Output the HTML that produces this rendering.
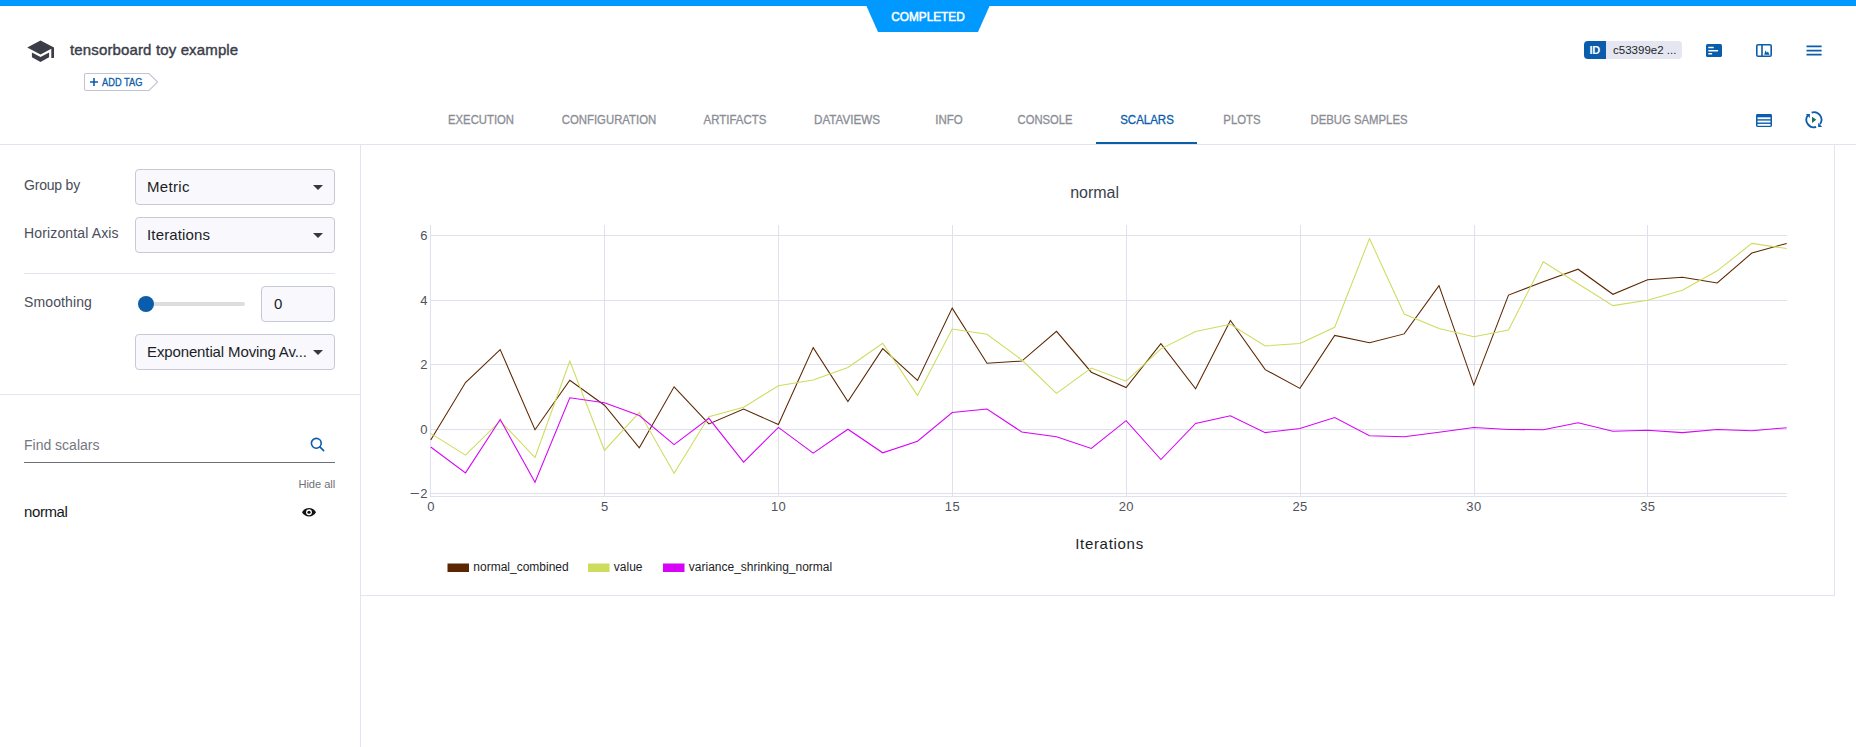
<!DOCTYPE html><html><head><meta charset="utf-8"><title>tensorboard toy example</title><style>
*{box-sizing:border-box;margin:0;padding:0}
html,body{width:1856px;height:747px;overflow:hidden;background:#fff}
body{font-family:"Liberation Sans",sans-serif;position:relative;color:#3a3d4a}
.a{position:absolute;white-space:nowrap;line-height:1}
.ln{position:absolute;background:#e2e4f0}
.sel{position:absolute;border:1px solid #c6c9d8;border-radius:4px;background:#f8f8fd}
.sel span{position:absolute;left:11px;top:7.6px;font-size:15px;color:#1c1e26;line-height:17px;white-space:nowrap}
.sel i{position:absolute;right:11.5px;top:15px;width:0;height:0;border-left:5px solid transparent;border-right:5px solid transparent;border-top:5.2px solid #38383c}
.tab{position:absolute;top:113px;font-size:12px;line-height:14px;color:#8b8d94;white-space:nowrap;transform:translateX(-50%);-webkit-text-stroke:0.3px}
.lbl{position:absolute;left:24px;font-size:14px;line-height:16px;color:#4a4d5a;white-space:nowrap}
</style></head><body>
<div class="a" style="left:0;top:0;width:1856px;height:6px;background:#0099ff"></div>
<svg class="a" style="left:860px;top:0" width="140" height="34"><polygon points="6,5 130,5 118,32 18,32" fill="#0099ff"/></svg>
<div class="a" id="completed" style="left:928px;top:11px;transform:translateX(-50%);font-size:12.5px;-webkit-text-stroke:0.55px;color:#fff;transform:translateX(-50%) scaleX(0.9448);transform-origin:50% 50%">COMPLETED</div>
<svg class="a" style="left:25.5px;top:38.5px" width="30" height="26" viewBox="0 0 30 26"><path d="M14.5 1.4 L1.2 8.5 L14.5 15.6 L25.3 9.8 V18.9 H28 V8.5 Z M5.9 13.4 V18.3 L14.5 23 L23.1 18.3 V13.4 L14.5 18.1 Z" fill="#3c3e47"/></svg>
<div class="a" id="title" style="left:70px;top:42px;font-size:15px;-webkit-text-stroke:0.4px;color:#3a3d4a;line-height:16px;letter-spacing:0.140px">tensorboard toy example</div>
<svg class="a" style="left:83px;top:72px" width="78" height="20" viewBox="0 0 78 20"><path d="M3 1.5 H66 L74.6 10 L66 18.5 H3 Q1.5 18.5 1.5 17 V3 Q1.5 1.5 3 1.5 Z" fill="#fff" stroke="#c2c5d5" stroke-width="1.1"/><path d="M7 10 H15 M11 6 V14" stroke="#0a5dab" stroke-width="1.6" fill="none"/></svg>
<div class="a" id="addtag" style="left:102px;top:77px;font-size:10.8px;-webkit-text-stroke:0.3px;color:#0a5dab;transform: scaleX(0.8596);transform-origin:0 0">ADD TAG</div>
<div class="a" style="left:1584px;top:41px;width:98px;height:18px;border-radius:4px;background:#e4e6f1;overflow:hidden"><div style="position:absolute;left:0;top:0;width:22px;height:18px;background:#0a5dab"></div></div>
<div class="a" id="idlbl" style="left:1589.5px;top:44.5px;font-size:11px;font-weight:bold;color:#fff;letter-spacing:-0.2px">ID</div>
<div class="a" id="idtxt" style="left:1613px;top:45px;font-size:11.5px;color:#1c1e26;letter-spacing:0.017px">c53399e2 ...</div>
<svg class="a" style="left:1706px;top:44px" width="16" height="13" viewBox="0 0 16 13"><rect x="0" y="0" width="16" height="13" rx="1.6" fill="#0a5dab"/><rect x="2.2" y="2.8" width="5.6" height="1.5" rx=".6" fill="#fff"/><rect x="2.2" y="5.9" width="10" height="1.5" rx=".6" fill="#fff"/><rect x="2.2" y="9" width="4" height="1.5" rx=".6" fill="#fff"/></svg>
<svg class="a" style="left:1756px;top:44px" width="16" height="13" viewBox="0 0 16 13"><rect x=".8" y=".8" width="14.4" height="11.4" rx="1.3" fill="#fff" stroke="#0a5dab" stroke-width="1.6"/><rect x="5.2" y="1" width="1.6" height="11" fill="#0a5dab"/><path d="M8.2 10.8 L9.5 6.2 L10.8 8.8 L11.9 7.4 L13.6 10.8 Z" fill="#0a5dab"/></svg>
<svg class="a" style="left:1806px;top:45px" width="16" height="11" viewBox="0 0 16 11"><path d="M.5 1.4 H15.6 M.5 5.6 H15.6 M.5 9.7 H15.6" stroke="#0a5dab" stroke-width="1.7" fill="none"/></svg>
<svg class="a" style="left:1756px;top:114px" width="16" height="13" viewBox="0 0 16 13"><rect x="0" y="0" width="16" height="13" rx="1.4" fill="#0a5dab"/><rect x="1.5" y="3.3" width="13" height="1.9" fill="#fff"/><rect x="1.5" y="6.6" width="13" height="1.9" fill="#fff"/><rect x="1.5" y="9.9" width="13" height="1.9" fill="#fff"/></svg>
<svg class="a" style="left:1804px;top:110px" width="20" height="20" viewBox="0 0 20 20"><g fill="none" stroke="#0a5dab" stroke-width="1.8"><path d="M7.65 2.55 A7.5 7.5 0 0 1 16.0 14.1"/><path d="M12.15 16.85 A7.5 7.5 0 0 1 3.8 5.3"/></g><path d="M14.1 12.8 V16.9 H18.2 Z" fill="#0a5dab"/><path d="M1.8 3.95 H5.9 V8.1 Z" fill="#0a5dab"/><path d="M8 6.8 L12.3 9.85 L8 12.9 Z" fill="#17735a"/></svg>
<div class="tab" id="tab0" style="left:481.3px;transform:translateX(-50%) scaleX(0.9426);transform-origin:50% 50%">EXECUTION</div>
<div class="tab" id="tab1" style="left:608.7px;transform:translateX(-50%) scaleX(0.9471);transform-origin:50% 50%">CONFIGURATION</div>
<div class="tab" id="tab2" style="left:735.1px;transform:translateX(-50%) scaleX(0.9545);transform-origin:50% 50%">ARTIFACTS</div>
<div class="tab" id="tab3" style="left:846.9px;transform:translateX(-50%) scaleX(0.9704);transform-origin:50% 50%">DATAVIEWS</div>
<div class="tab" id="tab4" style="left:948.7px;transform:translateX(-50%) scaleX(0.9591);transform-origin:50% 50%">INFO</div>
<div class="tab" id="tab5" style="left:1044.7px;transform:translateX(-50%) scaleX(0.9355);transform-origin:50% 50%">CONSOLE</div>
<div class="tab" id="tab6" style="left:1146.6px;color:#0a5dab;transform:translateX(-50%) scaleX(0.9566);transform-origin:50% 50%">SCALARS</div>
<div class="tab" id="tab7" style="left:1242.0px;transform:translateX(-50%) scaleX(0.9502);transform-origin:50% 50%">PLOTS</div>
<div class="tab" id="tab8" style="left:1359.1px;transform:translateX(-50%) scaleX(0.9445);transform-origin:50% 50%">DEBUG SAMPLES</div>
<div class="a" style="left:1096px;top:142px;width:101px;height:2px;background:#0a5dab"></div>
<div class="ln" style="left:0;top:144px;width:1856px;height:1px"></div>
<div class="ln" style="left:360px;top:144px;width:1px;height:603px"></div>
<div class="ln" style="left:0;top:394px;width:360px;height:1px"></div>
<div class="ln" style="left:24px;top:273px;width:311px;height:1px"></div>
<div class="ln" style="left:1834px;top:144px;width:1px;height:452px"></div>
<div class="ln" style="left:361px;top:595px;width:1474px;height:1px"></div>
<div class="lbl" id="l_group" style="top:177px;letter-spacing:-0.199px">Group by</div>
<div class="lbl" id="l_haxis" style="top:225px;letter-spacing:0.143px">Horizontal Axis</div>
<div class="lbl" id="l_smooth" style="top:294px;letter-spacing:0.120px">Smoothing</div>
<div class="sel" style="left:135px;top:169px;width:200px;height:36px"><span id="s_metric" style="letter-spacing:0.311px">Metric</span><i></i></div>
<div class="sel" style="left:135px;top:217px;width:200px;height:36px"><span id="s_iter" style="letter-spacing:0.155px">Iterations</span><i></i></div>
<div class="sel" style="left:135px;top:334px;width:200px;height:36px"><span id="s_exp" style="letter-spacing:-0.126px">Exponential Moving Av...</span><i></i></div>
<div class="a" style="left:146px;top:302px;width:99px;height:4px;border-radius:2px;background:#dcdde0"></div>
<div class="a" style="left:138px;top:296px;width:16px;height:16px;border-radius:8px;background:#0a5dab"></div>
<div class="sel" style="left:261px;top:286px;width:74px;height:35.5px"><span style="left:12px;top:7.8px">0</span></div>
<div class="a" id="find" style="left:24px;top:437px;font-size:14px;line-height:16px;color:#75777f">Find scalars</div>
<div class="a" style="left:24px;top:461.5px;width:311px;height:1px;background:#6f7178"></div>
<svg class="a" style="left:309px;top:436.4px" width="17" height="17" viewBox="0 0 17 17"><circle cx="7.3" cy="7.3" r="4.9" fill="none" stroke="#0a5dab" stroke-width="1.6"/><path d="M10.9 10.9 L14.6 14.6" stroke="#0a5dab" stroke-width="1.6" stroke-linecap="round"/></svg>
<div class="a" id="hideall" style="right:1520.8px;top:477.5px;font-size:11.1px;line-height:12px;color:#6f7178;letter-spacing:-0.029px">Hide all</div>
<div class="a" id="normal" style="left:24px;top:503.8px;font-size:15px;line-height:16px;color:#15161a;letter-spacing:-0.392px">normal</div>
<svg class="a" style="left:301px;top:506px" width="16" height="12" viewBox="0 0 16 12"><path d="M8 1.9 C4.9 1.9 2.4 3.8 1 6.25 C2.4 8.7 4.9 10.6 8 10.6 C11.1 10.6 13.6 8.7 15 6.25 C13.6 3.8 11.1 1.9 8 1.9 Z" fill="#111"/><circle cx="8" cy="6.25" r="2.9" fill="#fff"/><circle cx="8" cy="6.25" r="1.6" fill="#111"/></svg>
<svg class="a" style="left:0;top:0;pointer-events:none" width="1856" height="747" viewBox="0 0 1856 747">
<g fill="#dfe1ee" shape-rendering="crispEdges">
<rect x="604" y="225" width="1" height="272"/>
<rect x="778" y="225" width="1" height="272"/>
<rect x="952" y="225" width="1" height="272"/>
<rect x="1126" y="225" width="1" height="272"/>
<rect x="1300" y="225" width="1" height="272"/>
<rect x="1474" y="225" width="1" height="272"/>
<rect x="1647" y="225" width="1" height="272"/>
<rect x="431" y="235" width="1356" height="1"/>
<rect x="431" y="300" width="1356" height="1"/>
<rect x="431" y="364" width="1356" height="1"/>
<rect x="431" y="429" width="1356" height="1"/>
<rect x="431" y="493" width="1356" height="1"/>
<rect x="430" y="225" width="1" height="272"/><rect x="430" y="496" width="1357" height="1"/>
</g>
<g fill="none" stroke-width="1.05" stroke-linejoin="miter">
<polyline stroke="#5c2600" points="430.7,440.0 465.5,382.6 500.2,349.6 535.0,429.8 569.8,380.2 604.5,405.2 639.3,447.8 674.1,386.8 708.9,423.9 743.6,409.1 778.4,424.5 813.2,347.6 847.9,401.6 882.7,348.6 917.5,380.4 952.2,308.1 987.0,363.2 1021.8,361.1 1056.5,331.3 1091.3,372.2 1126.1,387.6 1160.9,343.7 1195.6,388.7 1230.4,320.4 1265.2,369.6 1299.9,388.4 1334.7,335.4 1369.5,342.7 1404.2,333.9 1439.0,285.7 1473.8,385.1 1508.5,295.1 1543.3,281.8 1578.1,269.2 1612.9,294.3 1647.6,279.7 1682.4,277.3 1717.2,283.0 1751.9,253.0 1786.7,243.4"/>
<polyline stroke="#cddc5c" points="430.7,433.4 465.5,455.1 500.2,420.9 535.0,457.5 569.8,361.1 604.5,450.4 639.3,412.3 674.1,473.3 708.9,416.7 743.6,407.3 778.4,385.8 813.2,380.1 847.9,367.5 882.7,343.3 917.5,395.4 952.2,329.1 987.0,334.3 1021.8,360.0 1056.5,393.4 1091.3,368.1 1126.1,381.2 1160.9,348.9 1195.6,331.5 1230.4,324.2 1265.2,345.9 1299.9,343.4 1334.7,327.3 1369.5,238.6 1404.2,314.0 1439.0,328.6 1473.8,336.7 1508.5,330.1 1543.3,261.7 1578.1,283.8 1612.9,305.6 1647.6,300.3 1682.4,290.2 1717.2,270.8 1751.9,243.4 1786.7,248.6"/>
<polyline stroke="#d703f7" points="430.7,447.0 465.5,472.9 500.2,419.5 535.0,482.2 569.8,397.8 604.5,402.7 639.3,415.5 674.1,444.6 708.9,418.3 743.6,462.1 778.4,427.4 813.2,453.2 847.9,429.2 882.7,452.8 917.5,441.2 952.2,412.5 987.0,409.1 1021.8,432.0 1056.5,436.7 1091.3,448.5 1126.1,420.6 1160.9,459.6 1195.6,423.4 1230.4,415.7 1265.2,432.6 1299.9,428.6 1334.7,417.5 1369.5,435.8 1404.2,436.7 1439.0,432.2 1473.8,427.6 1508.5,429.5 1543.3,429.7 1578.1,422.7 1612.9,431.3 1647.6,430.2 1682.4,432.6 1717.2,429.5 1751.9,430.8 1786.7,427.7"/>
</g>
<rect x="447.5" y="563.5" width="21.5" height="8.5" fill="#5c2600"/>
<rect x="588" y="563.5" width="21.5" height="8.5" fill="#cddc5c"/>
<rect x="663" y="563.5" width="21.5" height="8.5" fill="#d703f7"/>
</svg>
<div class="a ytk" style="right:1428.2px;top:229.2px;font-size:13px;color:#50525c;letter-spacing:0.3px">6</div>
<div class="a ytk" style="right:1428.2px;top:294.2px;font-size:13px;color:#50525c;letter-spacing:0.3px">4</div>
<div class="a ytk" style="right:1428.2px;top:358.2px;font-size:13px;color:#50525c;letter-spacing:0.3px">2</div>
<div class="a ytk" style="right:1428.2px;top:423.2px;font-size:13px;color:#50525c;letter-spacing:0.3px">0</div>
<div class="a ytk" style="right:1428.2px;top:487.2px;font-size:13px;color:#50525c;letter-spacing:0.3px"><span style="display:inline-block;transform:scaleX(1.3);transform-origin:100% 50%;margin-right:0.6px">−</span>2</div>
<div class="a xtk" style="left:431.0px;top:500px;transform:translateX(-50%);font-size:13px;color:#50525c;letter-spacing:0.3px">0</div>
<div class="a xtk" style="left:604.8px;top:500px;transform:translateX(-50%);font-size:13px;color:#50525c;letter-spacing:0.3px">5</div>
<div class="a xtk" style="left:778.6px;top:500px;transform:translateX(-50%);font-size:13px;color:#50525c;letter-spacing:0.3px">10</div>
<div class="a xtk" style="left:952.4px;top:500px;transform:translateX(-50%);font-size:13px;color:#50525c;letter-spacing:0.3px">15</div>
<div class="a xtk" style="left:1126.2px;top:500px;transform:translateX(-50%);font-size:13px;color:#50525c;letter-spacing:0.3px">20</div>
<div class="a xtk" style="left:1300.1px;top:500px;transform:translateX(-50%);font-size:13px;color:#50525c;letter-spacing:0.3px">25</div>
<div class="a xtk" style="left:1473.9px;top:500px;transform:translateX(-50%);font-size:13px;color:#50525c;letter-spacing:0.3px">30</div>
<div class="a xtk" style="left:1647.7px;top:500px;transform:translateX(-50%);font-size:13px;color:#50525c;letter-spacing:0.3px">35</div>
<div class="a" id="ctitle" style="left:1094.6px;top:185px;transform:translateX(-50%);font-size:16px;color:#3c3f4c">normal</div>
<div class="a" id="xtitle" style="left:1109.5px;top:535.5px;transform:translateX(-50%);font-size:15px;letter-spacing:0.7px;color:#1c1e26">Iterations</div>
<div class="a" id="lg1" style="left:473.3px;font-size:12px;color:#1c1e26;top:560.5px">normal_combined</div>
<div class="a" id="lg2" style="left:613.8px;font-size:12px;color:#1c1e26;top:560.5px">value</div>
<div class="a" id="lg3" style="left:688.8px;font-size:12px;color:#1c1e26;top:560.5px">variance_shrinking_normal</div>
</body></html>
